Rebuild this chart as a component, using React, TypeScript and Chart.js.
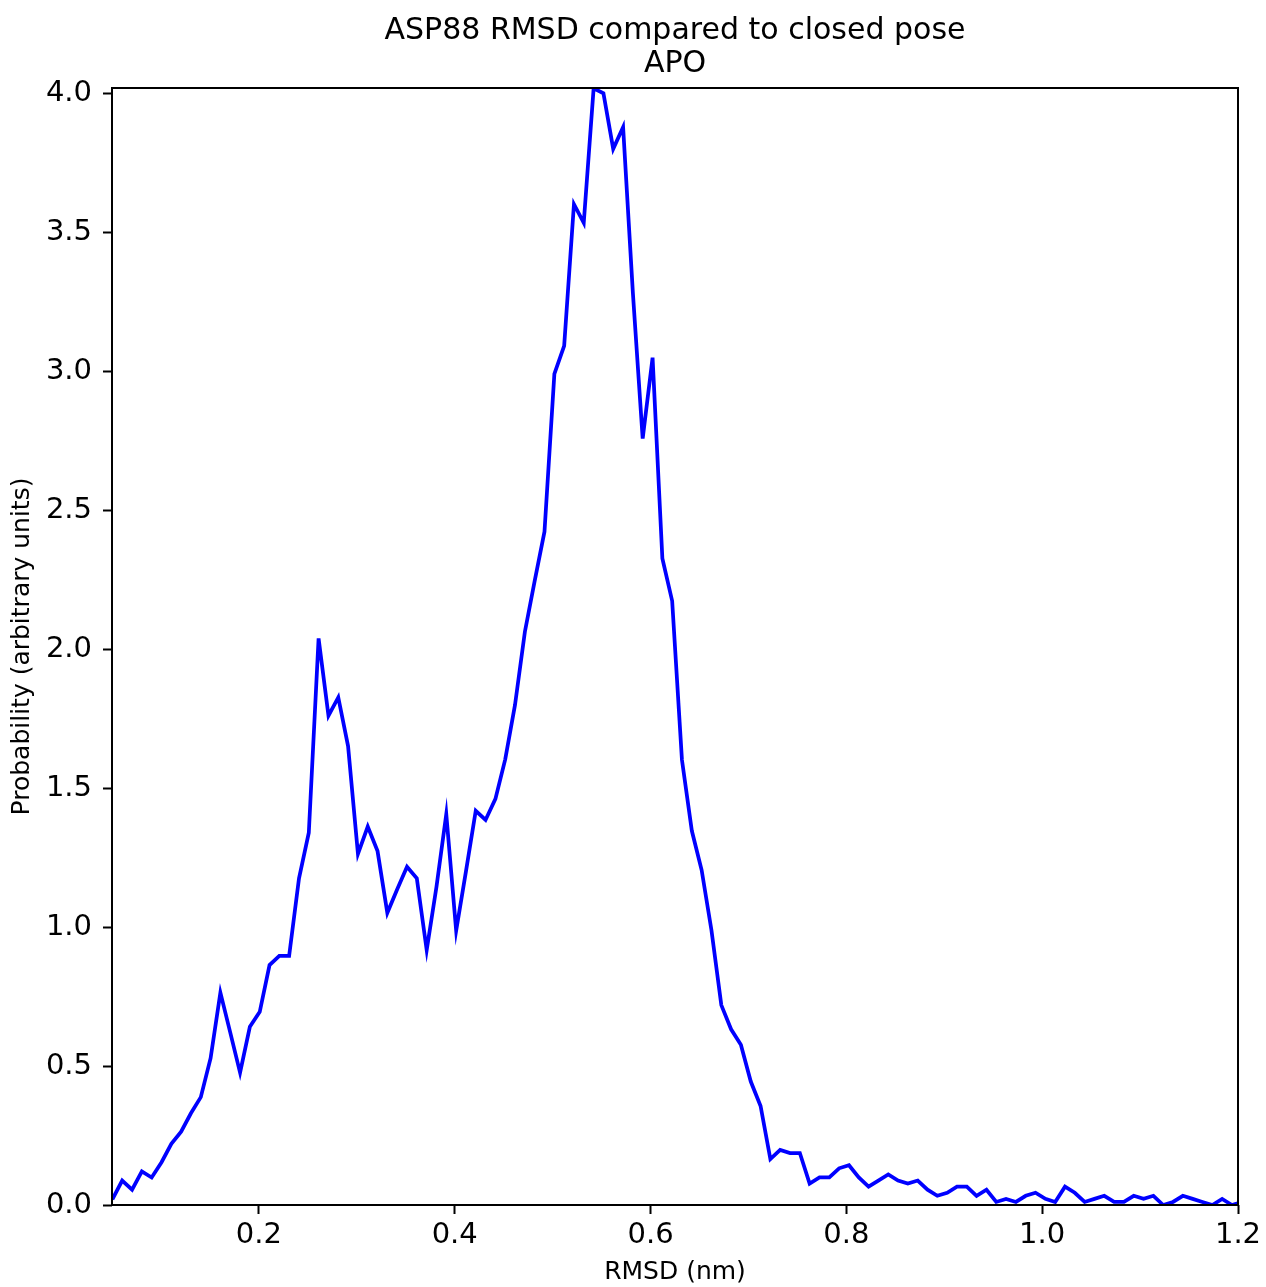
import React, { useEffect, useRef } from "react";
import { Chart, registerables } from "chart.js";

Chart.register(...registerables);

// Histogram bin centres (nm)
const rmsdNm = [
  0.0504, 0.0604, 0.0705, 0.0805, 0.0905, 0.1006, 0.1106, 0.1206, 0.1306, 0.1407,
  0.1507, 0.1607, 0.1708, 0.1808, 0.1908, 0.2009, 0.2109, 0.2209, 0.2309, 0.241,
  0.251, 0.261, 0.2711, 0.2811, 0.2911, 0.3012, 0.3112, 0.3212, 0.3312, 0.3413,
  0.3513, 0.3613, 0.3714, 0.3814, 0.3914, 0.4015, 0.4115, 0.4215, 0.4315, 0.4416,
  0.4516, 0.4616, 0.4717, 0.4817, 0.4917, 0.5018, 0.5118, 0.5218, 0.5318, 0.5419,
  0.5519, 0.5619, 0.572, 0.582, 0.592, 0.6021, 0.6121, 0.6221, 0.6321, 0.6422,
  0.6522, 0.6622, 0.6723, 0.6823, 0.6923, 0.7024, 0.7124, 0.7224, 0.7324, 0.7425,
  0.7525, 0.7625, 0.7726, 0.7826, 0.7926, 0.8027, 0.8127, 0.8227, 0.8327, 0.8428,
  0.8528, 0.8628, 0.8729, 0.8829, 0.8929, 0.903, 0.913, 0.923, 0.933, 0.9431,
  0.9531, 0.9631, 0.9732, 0.9832, 0.9932, 1.0033, 1.0133, 1.0233, 1.0333, 1.0434,
  1.0534, 1.0634, 1.0735, 1.0835, 1.0935, 1.1036, 1.1136, 1.1236, 1.1336, 1.1437,
  1.1537, 1.1637, 1.1738, 1.1838, 1.1938, 1.2039,
];

// Probability density per bin (arbitrary units)
const probability = [
  0.02, 0.088, 0.055, 0.121, 0.099, 0.154, 0.22, 0.264, 0.33, 0.388,
  0.528, 0.764, 0.62, 0.476, 0.641, 0.695, 0.863, 0.896, 0.896, 1.175,
  1.339, 2.038, 1.76, 1.826, 1.651, 1.263, 1.361, 1.273, 1.051, 1.136,
  1.217, 1.175, 0.917, 1.145, 1.406, 0.987, 1.2, 1.418, 1.385, 1.461,
  1.603, 1.799, 2.062, 2.245, 2.422, 2.99, 3.09, 3.6, 3.533, 4.017,
  3.999, 3.799, 3.877, 3.28, 2.757, 3.048, 2.326, 2.173, 1.601, 1.346,
  1.205, 0.989, 0.719, 0.632, 0.576, 0.444, 0.356, 0.165, 0.198, 0.187,
  0.187, 0.077, 0.099, 0.099, 0.132, 0.143, 0.099, 0.066, 0.088, 0.11,
  0.088, 0.077, 0.088, 0.055, 0.033, 0.044, 0.066, 0.066, 0.033, 0.055,
  0.011, 0.022, 0.011, 0.033, 0.044, 0.022, 0.011, 0.066, 0.044, 0.011,
  0.022, 0.033, 0.011, 0.011, 0.033, 0.022, 0.033, 0.0, 0.011, 0.033,
  0.022, 0.011, 0.0, 0.022, 0.0, 0.011,
];

const xTickValues = [0.2, 0.4, 0.6, 0.8, 1.0, 1.2];
const yTickValues = [0, 0.5, 1.0, 1.5, 2.0, 2.5, 3.0, 3.5, 4.0];

const FONT = "'DejaVu Sans', sans-serif";

// Draws the four black spines around the plotting area
const framePlugin = {
  id: "frame",
  afterDatasetsDraw(chart: any) {
    const { ctx, chartArea } = chart;
    ctx.save();
    ctx.strokeStyle = "#000";
    ctx.lineWidth = 2;
    ctx.strokeRect(chartArea.left, chartArea.top, chartArea.right - chartArea.left, chartArea.bottom - chartArea.top);
    ctx.restore();
  },
};

export default function App() {
  const canvasRef = useRef<HTMLCanvasElement | null>(null);

  useEffect(() => {
    const canvas = canvasRef.current;
    if (!canvas) return;
    const points = rmsdNm.map((x, i) => ({ x, y: probability[i] }));
    const chart = new Chart(canvas, {
      type: "line",
      data: {
        datasets: [
          {
            data: points,
            borderColor: "#0000ff",
            borderWidth: 3.75,
            pointRadius: 0,
            tension: 0,
            fill: false,
          },
        ],
      },
      options: {
        animation: false,
        responsive: false,
        devicePixelRatio: 1,
        layout: { padding: { left: 0, right: 28, top: 0, bottom: 0 } },
        plugins: {
          legend: { display: false },
          tooltip: { enabled: false },
          title: {
            display: true,
            fullSize: false,
            text: ["ASP88 RMSD compared to closed pose", "APO"],
            color: "#000",
            font: { family: FONT, size: 30, weight: "normal", lineHeight: 1.1 },
            padding: { top: 15, bottom: 7 },
          },
        },
        scales: {
          x: {
            type: "linear",
            min: 0.05,
            max: 1.2,
            afterBuildTicks: (scale: any) => {
              scale.ticks = xTickValues.map((value) => ({ value }));
            },
            afterFit: (scale: any) => {
              scale.height = 82;
            },
            border: { display: false },
            grid: {
              drawOnChartArea: false,
              drawTicks: true,
              tickLength: 9,
              tickWidth: 2,
              tickColor: "#000",
            },
            ticks: {
              color: "#000",
              font: { family: FONT, size: 29 },
              padding: 4,
              maxRotation: 0,
              autoSkip: false,
              callback: (v: any) => Number(v).toFixed(1),
            },
            title: {
              display: true,
              text: "RMSD (nm)",
              color: "#000",
              font: { family: FONT, size: 25, lineHeight: 1.2 },
              padding: { top: 0, bottom: 0 },
            },
          },
          y: {
            type: "linear",
            min: 0,
            max: 4.018,
            afterBuildTicks: (scale: any) => {
              scale.ticks = yTickValues.map((value) => ({ value }));
            },
            afterFit: (scale: any) => {
              scale.width = 112;
            },
            border: { display: false },
            grid: {
              drawOnChartArea: false,
              drawTicks: true,
              tickLength: 9,
              tickWidth: 2,
              tickColor: "#000",
            },
            ticks: {
              color: "#000",
              font: { family: FONT, size: 29 },
              padding: 11,
              autoSkip: false,
              callback: (v: any) => Number(v).toFixed(1),
            },
            title: {
              display: true,
              text: "Probability (arbitrary units)",
              color: "#000",
              font: { family: FONT, size: 25, lineHeight: 1.2 },
              padding: { top: 7, bottom: 0 },
            },
          },
        },
      },
      plugins: [framePlugin],
    });
    return () => chart.destroy();
  }, []);

  return (
    <div style={{ position: "absolute", left: 0, top: 0, width: 1266, height: 1287, background: "#fff" }}>
      <canvas ref={canvasRef} width={1266} height={1287} />
    </div>
  );
}
